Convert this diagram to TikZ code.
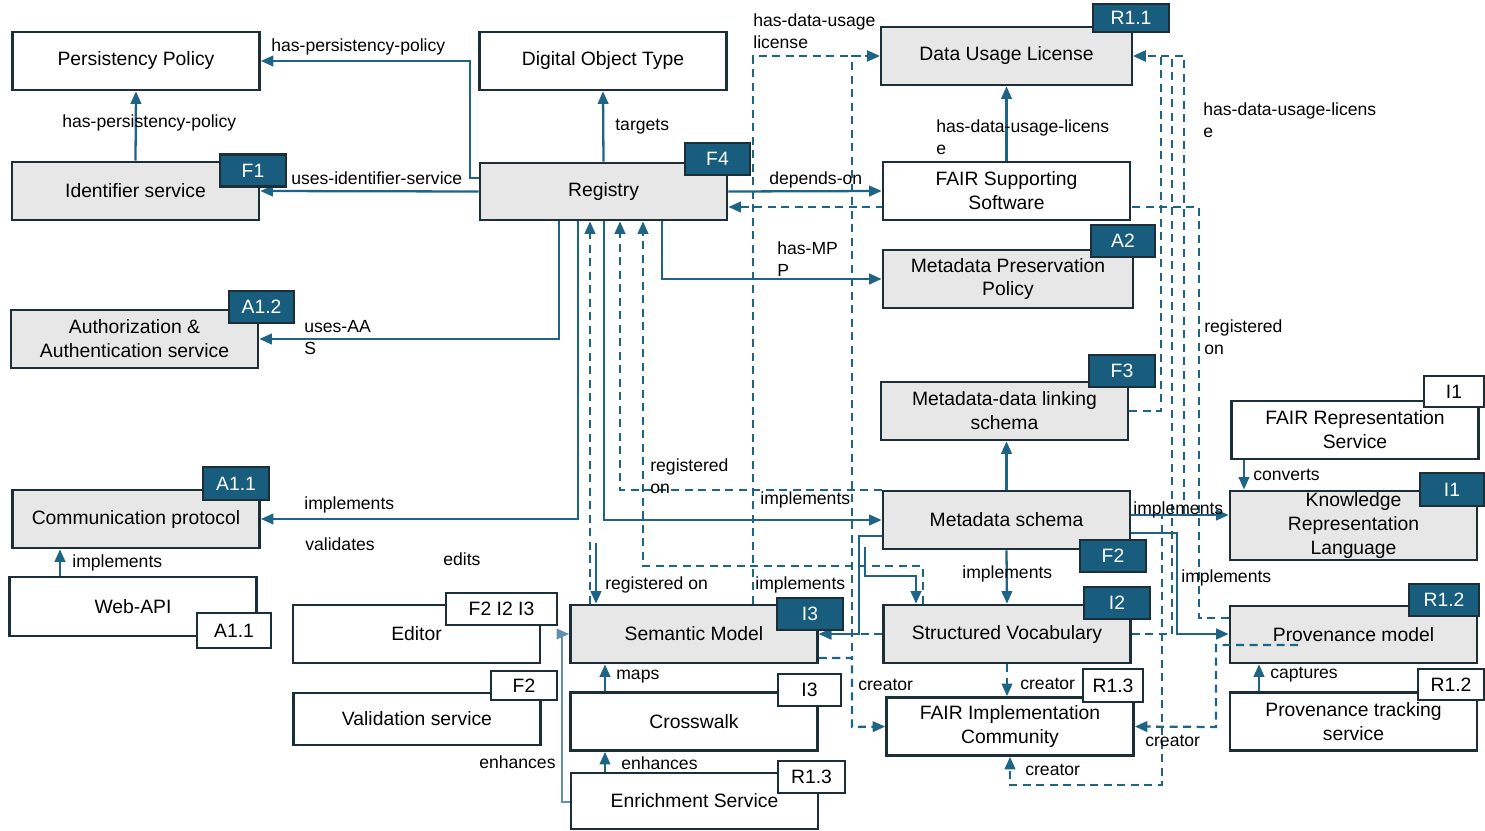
\documentclass[tikz,border=0pt]{standalone}
\usepackage{fontspec}
\setmainfont{Liberation Sans}
\usetikzlibrary{positioning,calc,arrows.meta}
\definecolor{lnk}{RGB}{30,100,134}
\definecolor{tagc}{RGB}{24,92,126}
\definecolor{bordc}{RGB}{28,46,56}
\definecolor{boxg}{RGB}{231,231,231}
\pgfdeclarelayer{bg}
\pgfsetlayers{bg,main}

\begin{document}
\begin{tikzpicture}[x=0.2mm, y=-0.2mm,
  box/.style={draw=bordc, line width=1.5pt, fill=white, minimum width=49.4mm,
    minimum height=11.6mm, inner sep=1pt, align=center,
    font=\fontsize{11}{13.6}\selectfont},
  gr/.style={fill=boxg},
  tg/.style={draw=bordc, fill=tagc, text=white, line width=1.5pt,
    minimum width=13.2mm, minimum height=6.4mm, inner sep=0pt,
    font=\fontsize{11}{13}\selectfont},
  tw/.style={tg, fill=white, text=black},
  rel/.style={draw=lnk, line width=1.3pt, -{Triangle[length=2.5mm,width=2.1mm]}},
  thin/.style={rel, line width=0.8pt, draw=lnk!70},
  drel/.style={rel, dash pattern=on 1.6mm off 1.1mm},
  lb/.style={anchor=west, inner sep=0pt, align=left,
    font=\fontsize{10}{12.5}\selectfont}
]
\useasboundingbox (0,0) rectangle (1485,831);

% Left column
\node[box] (PP) at (136,61) {Persistency Policy};
\node[box, gr] (IdS) at (135.5,191) {Identifier service};
\node[box, gr] (AAS) at (134.5,339) {Authorization \&\\Authentication service};
\node[box, gr] (CP) at (136,519) {Communication protocol};
\node[box, minimum height=11.8mm] (API) at (133,606.5) {Web-API};
\node[box] (Ed) at (416.5,634) {Editor};
\node[box, minimum height=10.4mm] (VS) at (417,719) {Validation service};

% Middle column
\node[box] (DOT) at (603,61) {Digital Object Type};
\node[box, gr, minimum height=11.4mm] (Reg) at (603.5,191.5) {Registry};
\node[box, gr] (SM) at (694,634) {Semantic Model};
\node[box] (CW) at (694,721.5) {Crosswalk};
\node[box, minimum height=11.2mm] (ES) at (694.5,801) {Enrichment Service};

% Right column
\node[box, gr, minimum width=50.2mm] (DUL) at (1006.5,56) {Data Usage License};
\node[box] (FSS) at (1006.5,191) {FAIR Supporting\\Software};
\node[box, gr, minimum width=50mm] (MPP) at (1008,279) {Metadata Preservation\\Policy};
\node[box, gr] (MDLS) at (1004.5,411) {Metadata-data linking\\schema};
\node[box, gr] (MS) at (1006.5,520) {Metadata schema};
\node[box, gr] (SV) at (1007,634) {Structured Vocabulary};
\node[box] (FIC) at (1010,726.5) {FAIR Implementation\\Community};

% Far right column
\node[box] (FRS) at (1355,430) {FAIR Representation\\Service};
\node[box, gr, minimum height=13.8mm] (KRL) at (1353.5,525.5)
  {Knowledge\\Representation\\Language};
\node[box, gr, minimum height=11.4mm] (PM) at (1353.5,634.5) {Provenance model};
\node[box] (PTS) at (1353.5,721.5) {Provenance tracking\\service};

% FAIR tags
\node[tg] (tF1) at (253,170.5) {F1};
\node[tg, minimum width=13mm] (tF4) at (717.5,159) {F4};
\node[tg, minimum width=15.2mm, minimum height=5.6mm] (tR11) at (1131,18) {R1.1};
\node[tg, minimum width=12.8mm] (tA2) at (1123,241) {A2};
\node[tg, minimum width=13mm] (tA12) at (261.5,307) {A1.2};
\node[tg] (tF3) at (1122,371) {F3};
\node[tw, minimum width=12mm, minimum height=6.2mm] (tI1w) at (1454,391.5) {I1};
\node[tg, minimum width=12.8mm, minimum height=6.6mm] (tI1) at (1452,489.5) {I1};
\node[tg, minimum height=6.6mm] (tA11) at (236,483.5) {A1.1};
\node[tg] (tF2) at (1113,556) {F2};
\node[tw, minimum width=14.8mm, minimum height=7mm] (tA11w) at (234,630.5) {A1.1};
\node[tw, minimum width=22.2mm] (tFII) at (501.5,609) {F2 I2 I3};
\node[tw, minimum height=5.8mm] (tF2w) at (524,685.5) {F2};
\node[tg] (tI3) at (810,614) {I3};
\node[tg] (tI2) at (1117,603) {I2};
\node[tg, minimum width=14mm] (tR12) at (1444,600) {R1.2};
\node[tw, minimum width=12.6mm] (tI3w) at (809.5,690) {I3};
\node[tw, minimum width=13.4mm] (tR13) at (811.5,777) {R1.3};
\node[tw, minimum width=12mm, minimum height=6.6mm] (tR13b) at (1113,685.5) {R1.3};
\node[tw, minimum height=6.2mm] (tR12w) at (1451,684.5) {R1.2};

% Loose ends
\coordinate (edA) at (865,547);
\coordinate (regA) at (596,543);

\begin{pgfonlayer}{bg}
% Solid relations
\foreach \a/\b in {IdS.north/PP.south, Reg.north/DOT.south, Reg.west/IdS.east,
  Reg.east/FSS.west, FSS.north/DUL.south, MS.south/SV.north}
  \draw[rel] (\a) -- (\b);
\draw[rel] (Reg.west |- 0,178) -| (470,61) -- (PP.east);
\draw[rel] (Reg.south -| 662,0) |- (MPP.west);
\draw[rel] (Reg.south -| 559,0) |- (AAS.east);
\draw[rel] (Reg.south -| 578,0) |- (CP.east);
\draw[rel] (Reg.south -| 604,0) |- (MS.west);
\draw[rel] (MS.north) -- (MS.north |- MDLS.south);
\draw[rel] (MS.east |- 0,515) -- (KRL.west |- 0,515);
\draw[rel] (MS.east |- 0,533) -| (1177,634) -- (PM.west |- 0,634);
\draw[rel] (MS.west |- 0,536) -| (859,634) -- (SM.east);
\draw[rel] (edA) |- (916,576) -- (SV.north -| 916,0);
\draw[rel] (regA) -- (SM.north -| regA);
\draw[rel] (CW.north -| 605,0) -- (SM.south -| 605,0);
\draw[rel] (ES.north -| 605,0) -- (CW.south -| 605,0);
\draw[thin] (ES.west |- 0,802) -| (562,634) -- (SM.west);
\draw[rel] (API.north -| 60,0) -- (CP.south -| 60,0);
\draw[rel] (FRS.south -| 1244,0) -- (KRL.north -| 1244,0);
\draw[rel] (PTS.north -| 1259,0) -- (PM.south -| 1259,0);

% Dashed relations
\draw[drel] (SM.north -| 590,0) -- (Reg.south -| 590,0);
\draw[drel] (MS.north west) -| (Reg.south -| 620,0);
\draw[drel] (SV.north -| 923,0) |- (643,566) -- (Reg.south -| 643,0);
\draw[drel] (SM.north -| 753,0) |- (DUL.west);
\draw[drel] (SM.east |- 0,658) -| (852,56) -- (DUL.west);
\draw[drel] (SM.east |- 0,658) -| (852,727) -- (FIC.west);
\draw[drel] (PM.west |- 0,618) -| (1199,207) -- (Reg.east |- 0,207);
\draw[drel] (MDLS.east) -| (1161,56) -- (DUL.east);
\draw[drel] (SV.east) -| (1172,56) -- (DUL.east);
\draw[drel] (MS.east |- 0,515) -| (1184,56) -- (DUL.east);
\draw[drel] (SV.west) -- (SM.east);
\draw[drel] (SV.south) -- (SV.south |- FIC.north);
\draw[drel] (MS.east |- 0,515) -| (1162,785) -| (FIC.south);
\end{pgfonlayer}
\draw[drel] (1298,645) -| (1216,727) -- (FIC.east);

% Relation labels
\foreach \x/\y/\t [count=\i] in {
  271/47/{has-persistency-policy}, 62/123/{has-persistency-policy},
  291/178/{uses-identifier-service}, 615/127/{targets},
  753/31/{has-data-usage\\license}, 769/180/{depends-on},
  936/137.5/{has-data-usage-licens\\e}, 1203/120/{has-data-usage-licens\\e},
  777/259/{has-MP\\P}, 304/337.5/{uses-AA\\S},
  1204/337/{registered\\on}, 650/476/{registered\\on},
  1253/475/{converts}, 304/505/{implements}, 760/500/{implements},
  1133/510/{implements}, 305/544/{validates}, 443/559/{edits},
  72/563/{implements}, 962/574/{implements}, 1181/578/{implements},
  605/585/{registered on}, 755/585/{implements}, 616/677/{maps},
  858/685/{creator}, 1020/684/{creator}, 1270/675/{captures},
  1145/741/{creator}, 479/762/{enhances}, 621/763/{enhances},
  1025/770/{creator}}
  \node[lb] (lab\i) at (\x,\y) {\t};
\end{tikzpicture}
\end{document}
